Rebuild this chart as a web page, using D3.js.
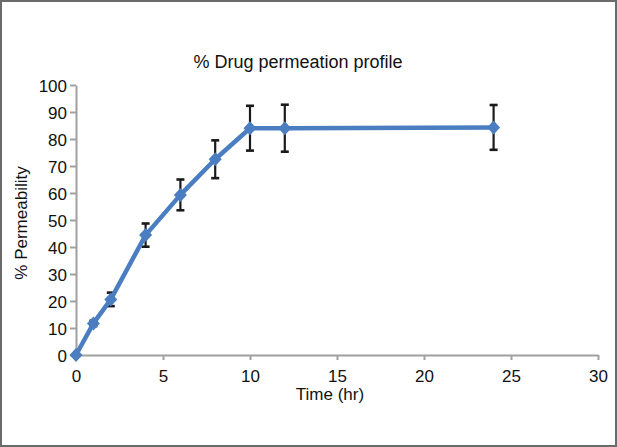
<!DOCTYPE html>
<html>
<head>
<meta charset="utf-8">
<script src="https://cdn.jsdelivr.net/npm/d3@7"></script>
<style>
  html, body { margin: 0; padding: 0; background: #fff; }
  svg { display: block; font-family: "Liberation Sans", Arial, sans-serif; }
</style>
</head>
<body>
<svg id="chart" width="617" height="447"></svg>
<script>
const title = "% Drug permeation profile";
const xLabel = "Time (hr)";
const yLabel = "% Permeability";
const times = [0, 1, 2, 4, 6, 8, 10, 12, 24];
const permeability = [0, 11.7, 20.6, 44.4, 59.3, 72.5, 84.0, 84.0, 84.3];
const errors = [0, 1, 2.5, 4.3, 5.7, 7, 8.3, 8.7, 8.3];
const xTicks = [0, 5, 10, 15, 20, 25, 30];
const yTicks = [0, 10, 20, 30, 40, 50, 60, 70, 80, 90, 100];

const svg = d3.select("#chart");
const W = 617, H = 447;

// frame
svg.append("rect").attr("x", 1).attr("y", 1).attr("width", W - 2).attr("height", H - 2)
  .attr("fill", "#fff").attr("stroke", "#6b6b6b").attr("stroke-width", 2);

const x = d3.scaleLinear().domain([0, 30]).range([76, 598]);
const y = d3.scaleLinear().domain([0, 100]).range([355, 85]);

const axisColor = "#a0a0a0";

const xAxis = svg.append("g").attr("transform", `translate(0,${y(0)})`)
  .call(d3.axisBottom(x).tickValues(xTicks).tickSize(5).tickSizeOuter(0).tickPadding(6));
const yAxis = svg.append("g").attr("transform", `translate(${x(0)},0)`)
  .call(d3.axisLeft(y).tickValues(yTicks).tickSize(6).tickSizeOuter(0).tickPadding(3));

[xAxis, yAxis].forEach(g => {
  g.select(".domain").attr("stroke", axisColor).attr("stroke-width", 2);
  g.selectAll(".tick line").attr("stroke", axisColor).attr("stroke-width", 2);
  g.selectAll(".tick text").attr("fill", "#111").style("font-size", "17px")
    .style("font-family", "'Liberation Sans', Arial, sans-serif");
});
xAxis.selectAll(".tick text").attr("dy", "0.95em");
yAxis.selectAll(".tick text").attr("dy", "0.36em");

const data = times.map((t, i) => ({ t, v: permeability[i], e: errors[i] }));

// error bars
const eb = svg.append("g").attr("stroke", "#1a1a1a").attr("stroke-width", 2.2);
data.filter(d => d.e > 0).forEach(d => {
  const cx = x(d.t);
  eb.append("line").attr("x1", cx).attr("x2", cx).attr("y1", y(d.v + d.e)).attr("y2", y(d.v - d.e));
  eb.append("line").attr("x1", cx - 4).attr("x2", cx + 4).attr("y1", y(d.v + d.e)).attr("y2", y(d.v + d.e)).attr("stroke-width", 2.6);
  eb.append("line").attr("x1", cx - 4).attr("x2", cx + 4).attr("y1", y(d.v - d.e)).attr("y2", y(d.v - d.e)).attr("stroke-width", 2.6);
});

const blue = "#4a7ec0";
svg.append("path").datum(data)
  .attr("fill", "none").attr("stroke", blue).attr("stroke-width", 4.5)
  .attr("stroke-linejoin", "round")
  .attr("d", d3.line().x(d => x(d.t)).y(d => y(d.v)));

svg.append("g").selectAll("path").data(data).join("path")
  .attr("transform", d => `translate(${x(d.t)},${y(d.v)})`)
  .attr("d", "M0,-7L6.5,0L0,7L-6.5,0Z")
  .attr("fill", blue);

svg.append("text").attr("x", 298).attr("y", 68).attr("text-anchor", "middle")
  .style("font-size", "18px").attr("fill", "#111").text(title);

svg.append("text").attr("x", 330).attr("y", 400).attr("text-anchor", "middle")
  .style("font-size", "17px").attr("fill", "#111").text(xLabel);

svg.append("text").attr("transform", "translate(27,223) rotate(-90)").attr("text-anchor", "middle")
  .style("font-size", "17px").attr("fill", "#111").text(yLabel);
</script>
</body>
</html>
